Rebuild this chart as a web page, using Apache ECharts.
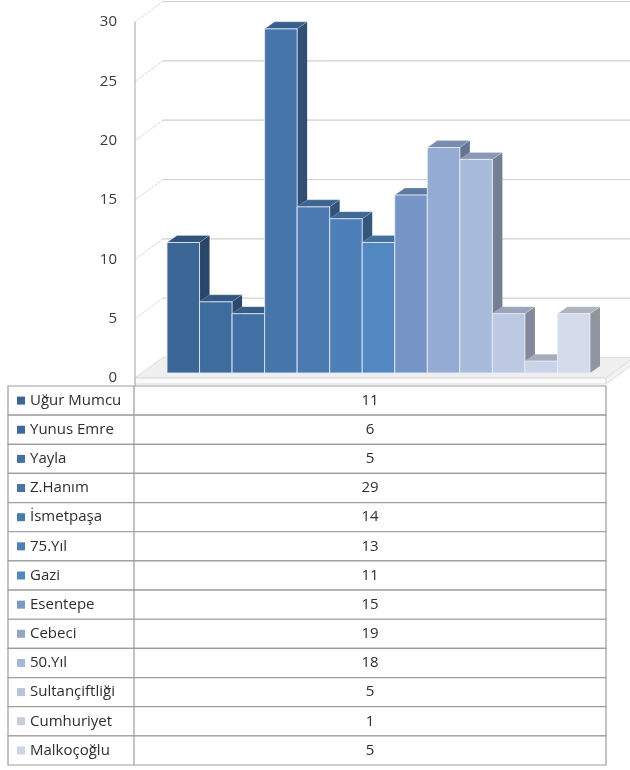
<!DOCTYPE html>
<html>
<head>
<meta charset="utf-8">
<script src="https://cdn.jsdelivr.net/npm/echarts@6/dist/echarts.min.js"></script>
<style>
  html, body { margin: 0; padding: 0; background: #ffffff; }
  #chart { width: 630px; height: 770px; }
</style>
</head>
<body>
<div id="chart"></div>
<script>
// Districts and their counts
const categories = ['Uğur Mumcu', 'Yunus Emre', 'Yayla', 'Z.Hanım', 'İsmetpaşa', '75.Yıl', 'Gazi',
  'Esentepe', 'Cebeci', '50.Yıl', 'Sultançiftliği', 'Cumhuriyet', 'Malkoçoğlu'];
const values = [11, 6, 5, 29, 14, 13, 11, 15, 19, 18, 5, 1, 5];
const yTicks = [0, 5, 10, 15, 20, 25, 30];

// One shade per district, dark blue fading to pale lavender
const palette = ['#3b6797', '#3e6c9e', '#4270a5', '#4675ab', '#4a7ab1', '#4d80b8', '#5188c2',
  '#7495c6', '#94acd4', '#a9bbdb', '#bdc9e2', '#cad3e7', '#d4dbea'];
const keyPalette = ['#3a6596', '#3d6a9c', '#4170a4', '#4674ab', '#4a7ab2', '#4e81ba', '#4f88c6',
  '#7a98c8', '#8fa7cc', '#a6b6d6', '#b8c2d8', '#c6cddc', '#cdd3e2'];

// Pseudo-3D geometry
const WALL_DX = 28, WALL_DY = -20.5;   // depth of the back wall
const BAR_OFF_X = 7, BAR_OFF_Y = -5;   // bars sit a little behind the front plane
const BAR_DX = 10, BAR_DY = -7;        // bar depth
const AXIS_SHIFT = 25;                 // value axis sits left of the first bar slot
const FONT = "'Open Sans', 'DejaVu Sans', sans-serif";

function shade(hex, k) {
  const n = parseInt(hex.slice(1), 16);
  const r = Math.round(((n >> 16) & 255) * k);
  const g = Math.round(((n >> 8) & 255) * k);
  const b = Math.round((n & 255) * k);
  return 'rgb(' + r + ',' + g + ',' + b + ')';
}

const chart = echarts.init(document.getElementById('chart'), null, { renderer: 'canvas' });

function renderWall(params, api) {
  const cs = params.coordSys;
  const ax = cs.x - AXIS_SHIFT;
  const y = api.coord([0, api.value(1)])[1];
  return {
    type: 'group',
    children: [
      { type: 'line', shape: { x1: ax, y1: y, x2: ax + WALL_DX, y2: y + WALL_DY },
        style: { stroke: '#d8d8d8', lineWidth: 1, lineDash: [3, 1] } },
      { type: 'line', shape: { x1: ax + WALL_DX, y1: y + WALL_DY, x2: 640, y2: y + WALL_DY },
        style: { stroke: '#d0d0d0', lineWidth: 1.2 } }
    ]
  };
}

function renderFloor(params, api) {
  const cs = params.coordSys;
  const ax = cs.x - AXIS_SHIFT;
  const y0 = api.coord([0, 0])[1];
  const xr = 606;
  return {
    type: 'group',
    children: [
      { type: 'polygon', shape: { points: [[ax, y0], [xr, y0], [xr + WALL_DX, y0 + WALL_DY], [ax + WALL_DX, y0 + WALL_DY]] },
        style: { fill: '#efefef', stroke: '#e0e0e0', lineWidth: 1 } },
      { type: 'rect', shape: { x: ax, y: y0, width: xr - ax, height: 6 },
        style: { fill: '#f9f9f9', stroke: '#dadada', lineWidth: 1 } },
      { type: 'polygon', shape: { points: [[xr, y0], [xr + WALL_DX, y0 + WALL_DY], [xr + WALL_DX, y0 + WALL_DY + 6], [xr, y0 + 6]] },
        style: { fill: '#f2f2f2', stroke: '#dddddd', lineWidth: 1 } },
      { type: 'line', shape: { x1: ax, y1: cs.y, x2: ax, y2: y0 + 10 },
        style: { stroke: '#b4b4b4', lineWidth: 1.2 } }
    ]
  };
}

function renderBar(params, api) {
  const i = api.value(0);
  const v = api.value(1);
  const base = api.coord([i, 0]);
  const top = api.coord([i, v]);
  const w = api.size([1, 0])[0];
  const x0 = base[0] - w / 2 + BAR_OFF_X;
  const x1 = x0 + w;
  const yb = base[1] + BAR_OFF_Y;
  const yt = top[1] + BAR_OFF_Y;
  const c = palette[i];
  return {
    type: 'group',
    children: [
      { type: 'polygon', shape: { points: [[x1, yt], [x1 + BAR_DX, yt + BAR_DY], [x1 + BAR_DX, yb + BAR_DY], [x1, yb]] },
        style: { fill: shade(c, 0.68) } },
      { type: 'polygon', shape: { points: [[x0, yt], [x0 + BAR_DX, yt + BAR_DY], [x1 + BAR_DX, yt + BAR_DY], [x1, yt]] },
        style: { fill: shade(c, 0.82), stroke: 'rgba(255,255,255,0.35)', lineWidth: 0.6 } },
      { type: 'rect', shape: { x: x0, y: yt, width: w, height: yb - yt },
        style: { fill: c, stroke: 'rgba(230,238,248,0.85)', lineWidth: 1 } }
    ]
  };
}

function renderRow(params, api) {
  const cs = params.coordSys;
  const i = api.value(1);
  const cy = api.coord([0, i])[1];
  const h = api.size([0, 1])[1];
  const left = cs.x, right = cs.x + cs.width;
  const div = left + 126;
  const top = cy - h / 2;
  return {
    type: 'group',
    children: [
      { type: 'rect', shape: { x: left, y: top, width: right - left, height: h },
        style: { fill: '#ffffff', stroke: '#9c9c9c', lineWidth: 1.2 } },
      { type: 'line', shape: { x1: div, y1: top, x2: div, y2: top + h },
        style: { stroke: '#9c9c9c', lineWidth: 1.2 } },
      { type: 'rect', shape: { x: left + 9, y: cy - 4, width: 8, height: 8 },
        style: { fill: keyPalette[i] } },
      { type: 'text', style: { x: left + 22, y: cy, text: categories[i], fill: '#2e2e2e',
          font: '15px ' + FONT, verticalAlign: 'middle', align: 'left' } },
      { type: 'text', style: { x: (div + right) / 2, y: cy, text: String(values[i]), fill: '#2e2e2e',
          font: '15px ' + FONT, verticalAlign: 'middle', align: 'center' } }
    ]
  };
}

chart.setOption({
  animation: false,
  backgroundColor: '#ffffff',
  grid: [
    { left: 160, right: 47, top: 22, bottom: 392 },
    { left: 8, right: 24, top: 386, bottom: 5 }
  ],
  xAxis: [
    { type: 'category', gridIndex: 0, data: categories, show: false, boundaryGap: true },
    { type: 'value', gridIndex: 1, min: 0, max: 1, show: false }
  ],
  yAxis: [
    { type: 'value', gridIndex: 0, min: 0, max: 30, interval: 5, offset: AXIS_SHIFT,
      axisLine: { show: false }, axisTick: { show: false }, splitLine: { show: false },
      axisLabel: { color: '#3a3a3a', fontSize: 15, fontFamily: FONT, margin: 18 } },
    { type: 'category', gridIndex: 1, data: categories, inverse: true, show: false }
  ],
  series: [
    { type: 'custom', name: 'wall', xAxisIndex: 0, yAxisIndex: 0, silent: true, z: 1,
      data: yTicks.map(function (t) { return [0, t]; }), renderItem: renderWall },
    { type: 'custom', name: 'floor', xAxisIndex: 0, yAxisIndex: 0, silent: true, z: 2,
      data: [[0, 0]], renderItem: renderFloor },
    { type: 'custom', name: 'bars', xAxisIndex: 0, yAxisIndex: 0, z: 3,
      data: values.map(function (v, i) { return [i, v]; }), renderItem: renderBar },
    { type: 'custom', name: 'table', xAxisIndex: 1, yAxisIndex: 1, z: 4,
      data: categories.map(function (c, i) { return [0, i]; }), renderItem: renderRow }
  ]
});
</script>
</body>
</html>
